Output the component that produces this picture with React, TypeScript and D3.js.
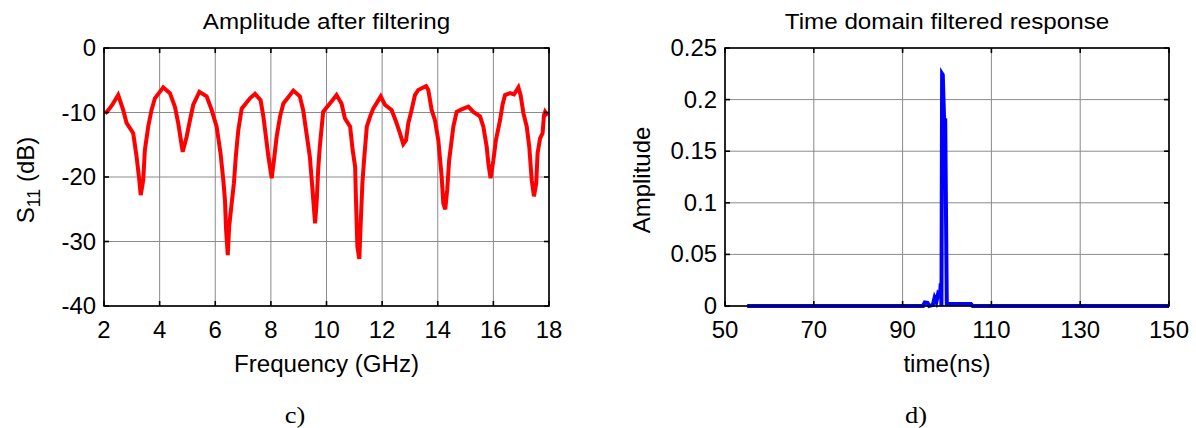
import React from "react";
import * as d3 from "d3";

// c) S11 after filtering
const freqGHz = [
  2.04, 2.2, 2.3, 2.51, 2.69, 2.81, 3.05, 3.17, 3.27, 3.32, 3.41, 3.47, 3.59, 3.71, 3.83, 4.13, 4.37,
  4.55, 4.67, 4.83, 4.97, 5.09, 5.21, 5.43, 5.69, 5.87, 6.05, 6.19, 6.29, 6.35, 6.39, 6.45, 6.5,
  6.59, 6.67, 6.74, 6.83, 6.95, 7.25, 7.43, 7.63, 7.73, 7.82, 7.91, 8.03, 8.11, 8.21, 8.33, 8.45,
  8.81, 9.04, 9.16, 9.28, 9.4, 9.47, 9.59, 9.65, 9.7, 9.76, 9.88, 10.18, 10.36, 10.54, 10.66,
  10.85, 10.94, 11.03, 11.06, 11.11, 11.18, 11.23, 11.29, 11.35, 11.45, 11.57, 11.68, 11.95,
  12.1, 12.34, 12.5, 12.64, 12.76, 12.86, 12.94, 13.06, 13.18, 13.3, 13.58, 13.66, 13.78, 13.9,
  14.02, 14.14, 14.2, 14.27, 14.34, 14.41, 14.5, 14.56, 14.68, 14.86, 15.1, 15.28, 15.52, 15.64,
  15.76, 15.82, 15.9, 16.0, 16.09, 16.24, 16.33, 16.42, 16.6, 16.74, 16.9, 16.98, 17.08, 17.2,
  17.29, 17.38, 17.46, 17.54, 17.59, 17.68, 17.77, 17.82, 17.86, 17.95,
];
const s11dB = [
  -10.2, -9.4, -8.8, -7.3, -9.6, -11.6, -13.2, -16.8, -20.5, -22.8, -20.5, -15.8, -12.2, -9.6, -7.8, -6.1, -7.0,
  -9.1, -11.7, -16.1, -13.8, -11.2, -8.8, -6.8, -7.5, -9.6, -12.2, -16.3, -20.5, -23.6, -28.2, -32.1, -27.7,
  -24.1, -21.0, -16.8, -12.7, -9.4, -7.8, -7.1, -8.1, -10.6, -13.7, -16.8, -20.2, -17.4, -13.7, -10.6, -8.6,
  -6.6, -7.5, -9.6, -13.2, -16.8, -20.5, -27.2, -23.6, -18.9, -15.3, -9.9, -8.3, -7.3, -8.6, -10.9,
  -12.2, -15.8, -18.4, -23.6, -30.8, -32.7, -27.2, -21.0, -17.4, -12.2, -10.6, -9.4, -7.5,
  -8.8, -9.6, -11.4, -13.2, -14.9, -14.3, -11.7, -9.6, -7.3, -6.5, -5.9, -6.5, -9.6, -11.2,
  -14.3, -19.9, -24.1, -25.0, -22.0, -17.4, -14.3, -12.2, -9.9, -9.5, -9.1, -9.9, -10.6, -12.2,
  -15.3, -17.9, -20.2, -17.4, -14.3, -11.2, -8.8, -7.3, -7.0, -7.2, -6.1, -7.3, -10.1, -12.2,
  -15.3, -20.5, -23.0, -21.0, -16.3, -14.0, -13.2, -10.4, -9.9, -10.5,
];
const freqTicks = [2, 4, 6, 8, 10, 12, 14, 16, 18];
const s11Ticks = [0, -10, -20, -30, -40];

// d) time domain response
const timeNs = [
  55, 94.6, 95.0, 95.6, 96.0, 96.8, 97.2, 97.6, 98.0, 98.4, 98.6, 98.75, 98.9, 99.05, 99.35,
  99.6, 99.95, 100.3, 105.4, 105.8, 150,
];
const amplitude = [
  0, 0, 0.0035, 0.003, 0, 0.001, 0.008, 0.004, 0.012, 0.01, 0.022, 0.0, 0.225, 0.224, 0.18,
  0.18, 0.002, 0.002, 0.002, 0, 0,
];
const timeTicks = [50, 70, 90, 110, 130, 150];
const ampTicks = [0, 0.05, 0.1, 0.15, 0.2, 0.25];

const SANS = "'Liberation Sans', Arial, sans-serif";
const SERIF = "'Liberation Serif', 'Times New Roman', serif";

function Txt({ x, y, children, anchor = "middle", size = 23, sx = 1.04, family = SANS }) {
  return (
    <text
      transform={`translate(${x},${y}) scale(${sx},1)`}
      textAnchor={anchor}
      fontFamily={family}
      fontSize={size}
      fill="#000"
    >
      {children}
    </text>
  );
}

function Panel({ left, right, top, bottom, xDomain, yDomain, xTicks, yTicks, yFmt, xs, ys, color, width, title, xLabel, yLabel, yLabelX, caption, captionX }) {
  const x = d3.scaleLinear().domain(xDomain).range([left, right]);
  const y = d3.scaleLinear().domain(yDomain).range([bottom, top]);
  const line = d3
    .line<number>()
    .x((d, i) => x(xs[i]))
    .y((d) => y(d));
  const cx = (left + right) / 2;
  const tk = 5;

  return (
    <g>
      {/* grid */}
      {xTicks.map((t) => (
        <line key={"gx" + t} x1={x(t)} x2={x(t)} y1={top} y2={bottom} stroke="#8a8a8a" strokeWidth={1} />
      ))}
      {yTicks.map((t) => (
        <line key={"gy" + t} x1={left} x2={right} y1={y(t)} y2={y(t)} stroke="#8a8a8a" strokeWidth={1} />
      ))}

      <path d={line(ys) || ""} fill="none" stroke={color} strokeWidth={width} strokeLinejoin="miter" />

      {/* box + inward ticks */}
      <rect x={left} y={top} width={right - left} height={bottom - top} fill="none" stroke="#000" strokeWidth={1.6} />
      {xTicks.map((t) => (
        <g key={"tx" + t} stroke="#000" strokeWidth={1.6}>
          <line x1={x(t)} x2={x(t)} y1={bottom} y2={bottom - tk} />
          <line x1={x(t)} x2={x(t)} y1={top} y2={top + tk} />
        </g>
      ))}
      {yTicks.map((t) => (
        <g key={"ty" + t} stroke="#000" strokeWidth={1.6}>
          <line x1={left} x2={left + tk} y1={y(t)} y2={y(t)} />
          <line x1={right} x2={right - tk} y1={y(t)} y2={y(t)} />
        </g>
      ))}

      {xTicks.map((t) => (
        <Txt key={"lx" + t} x={x(t)} y={bottom + 32}>{String(t)}</Txt>
      ))}
      {yTicks.map((t) => (
        <Txt key={"ly" + t} x={left - 8} y={y(t) + 8} anchor="end">{yFmt(t)}</Txt>
      ))}

      <Txt x={cx} y={29} size={22} sx={1.1}>{title}</Txt>
      <Txt x={cx} y={372} sx={1.05}>{xLabel}</Txt>
      <text
        transform={`translate(${yLabelX},${(top + bottom) / 2 + 3}) rotate(-90)`}
        textAnchor="middle"
        fontFamily={SANS}
        fontSize={24}
      >
        {yLabel}
      </text>
      <Txt x={captionX} y={423} family={SERIF} sx={1.15}>{caption}</Txt>
    </g>
  );
}

export default function App() {
  return (
    <svg width={1196} height={428} style={{ position: "absolute", left: 0, top: 0, background: "#fff" }}>
      <rect width={1196} height={428} fill="#fff" />
      <Panel
        left={104}
        right={549}
        top={48}
        bottom={306}
        xDomain={[2, 18]}
        yDomain={[-40, 0]}
        xTicks={freqTicks}
        yTicks={s11Ticks}
        yFmt={(v) => String(v)}
        xs={freqGHz}
        ys={s11dB}
        color="#ff0000"
        width={4}
        title="Amplitude after filtering"
        xLabel="Frequency (GHz)"
        yLabel={
          <>
            S<tspan fontSize={18} dy={6}>11</tspan>
            <tspan dy={-6}> (dB)</tspan>
          </>
        }
        yLabelX={34}
        caption="c)"
        captionX={295}
      />
      <Panel
        left={725}
        right={1169}
        top={48}
        bottom={306}
        xDomain={[50, 150]}
        yDomain={[0, 0.25]}
        xTicks={timeTicks}
        yTicks={ampTicks}
        yFmt={(v) => (v === 0 ? "0" : String(+v.toFixed(2)))}
        xs={timeNs}
        ys={amplitude}
        color="#0000ff"
        width={4}
        title="Time domain filtered response"
        xLabel="time(ns)"
        yLabel="Amplitude"
        yLabelX={650}
        caption="d)"
        captionX={916}
      />
    </svg>
  );
}
